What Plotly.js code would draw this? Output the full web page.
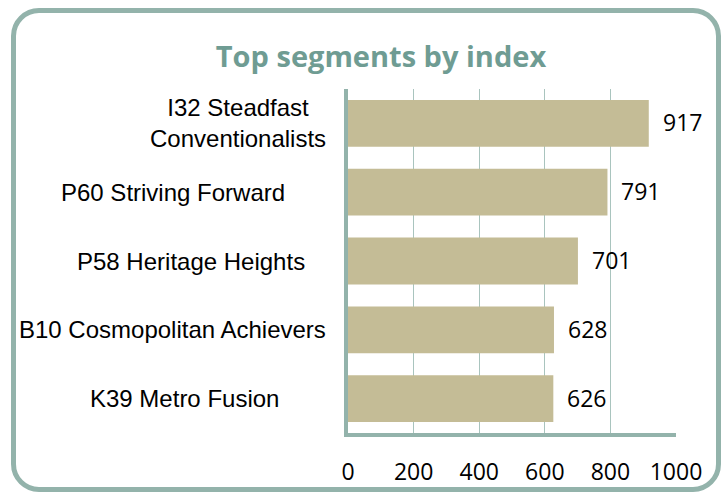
<!DOCTYPE html>
<html>
<head>
<meta charset="utf-8">
<script src="https://cdn.plot.ly/plotly-3.0.1.min.js"></script>
<style>
  html, body { margin: 0; padding: 0; background: #ffffff; }
  #wrap { position: relative; width: 722px; height: 493px; }
  #chart { position: absolute; left: 0; top: 0; width: 722px; height: 493px; }
  #frame { position: absolute; left: 11px; top: 8px; width: 700px; height: 474px;
           border: 5px solid #93b3ab; border-radius: 28px; pointer-events: none; }
</style>
</head>
<body>
<div id="wrap">
  <div id="chart"></div>
  <div id="frame"></div>
</div>
<script>
// ---- data ----
const categories = ["I32 Steadfast<br>Conventionalists", "P60 Striving Forward", "P58 Heritage Heights", "B10 Cosmopolitan Achievers", "K39 Metro Fusion"];
const values = [917, 791, 701, 628, 626];
const tickValues = [0, 200, 400, 600, 800, 1000];
const chartTitle = "Top segments by index";

// ---- layout helpers (pixel centres of category labels) ----
const plotLeft = 348, plotWidth = 328;
const labelCenterPx = [238, 173, 191, 172, 184];

const barColor = "#c4bc96";
const axisColor = "#93b3ab";

const trace = {
  type: "bar",
  orientation: "h",
  x: values,
  y: categories,
  marker: { color: barColor },
  width: 0.68,
  hoverinfo: "x+y"
};

const annotations = [];
categories.forEach((c, i) => {
  annotations.push({
    xref: "paper", yref: "y",
    x: (labelCenterPx[i] - plotLeft) / plotWidth, y: c,
    text: c, showarrow: false, xanchor: "center", yanchor: "middle",
    align: "center",
    font: { family: "Liberation Sans, Arial, sans-serif", size: 24, color: "#000000" }
  });
  annotations.push({
    xref: "x", yref: "y", x: values[i], y: c,
    text: String(values[i]), showarrow: false, xanchor: "left", yanchor: "middle",
    xshift: 12, yshift: 1,
    font: { family: "Open Sans, sans-serif", size: 23, color: "#000000" }
  });
});

const layout = {
  width: 722, height: 493,
  margin: { l: plotLeft, r: 722 - plotLeft - plotWidth, t: 89, b: 60, pad: 0 },
  paper_bgcolor: "#ffffff", plot_bgcolor: "#ffffff",
  showlegend: false,
  title: {
    text: "<b>" + chartTitle + "</b>",
    xref: "container", yref: "container",
    x: 381 / 722, xanchor: "center",
    y: 1 - 57 / 493, yanchor: "middle",
    font: { family: "Open Sans, sans-serif", size: 29, color: "#6f9c93" }
  },
  xaxis: {
    range: [0, 1000],
    tickvals: tickValues,
    ticktext: tickValues.map(String),
    showgrid: true, gridcolor: "#a9c4be", gridwidth: 1,
    zeroline: false,
    showline: true, linecolor: axisColor, linewidth: 4,
    ticks: "", ticklabelstandoff: 15,
    tickfont: { family: "Open Sans, sans-serif", size: 23, color: "#000000" },
    fixedrange: true
  },
  yaxis: {
    type: "category",
    categoryorder: "array", categoryarray: categories,
    autorange: "reversed",
    showticklabels: false,
    showgrid: false, zeroline: false,
    showline: true, linecolor: axisColor, linewidth: 4,
    ticks: "",
    fixedrange: true
  },
  annotations: annotations
};

Plotly.newPlot("chart", [trace], layout, { displayModeBar: false, staticPlot: true });
</script>
</body>
</html>
